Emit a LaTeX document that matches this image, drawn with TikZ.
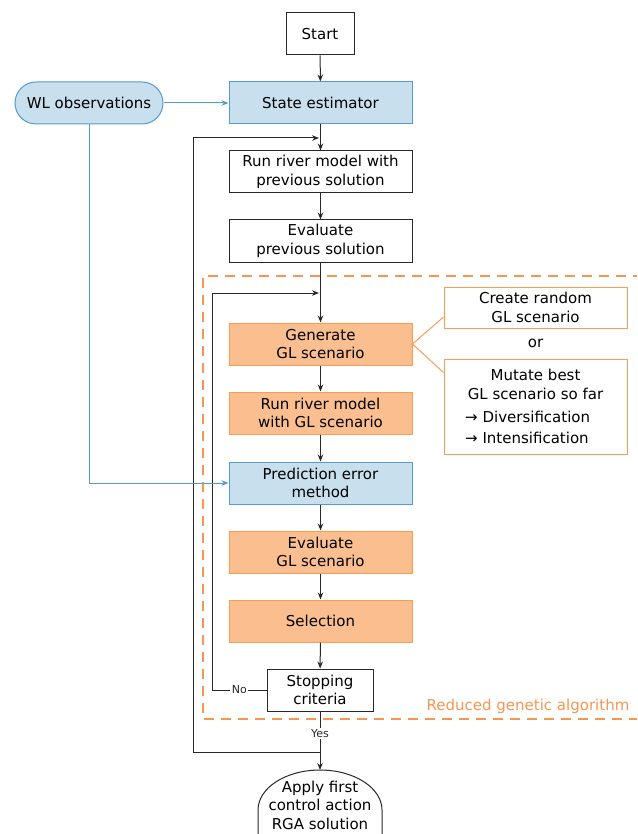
\documentclass[tikz,border=0pt]{standalone}
\usepackage{fontspec}
\setmainfont{DejaVu Sans}
\usetikzlibrary{arrows.meta,calc}
\definecolor{bfill}{RGB}{200,223,238}
\definecolor{bline}{RGB}{84,156,206}
\definecolor{ofill}{RGB}{251,191,143}
\definecolor{oline}{RGB}{247,156,82}
\definecolor{odash}{RGB}{247,150,80}
\definecolor{lcol}{RGB}{40,40,40}
\begin{document}
\begin{tikzpicture}[x=1pt,y=-1pt,
  txt/.style={font=\fontsize{15}{18.5}\selectfont, align=center},
  box/.style={txt, draw=lcol, line width=1pt, minimum width=183pt, minimum height=42pt, inner sep=0pt},
  bluebox/.style={box, fill=bfill, draw=bline},
  orbox/.style={box, fill=ofill, draw=oline},
  sidebox/.style={box, draw=oline},
  arr/.style={-{Stealth[length=7pt,width=5.5pt]}, line width=1pt, draw=lcol},
  barr/.style={-{Stealth[length=7pt,width=5.5pt]}, line width=1pt, draw=bline},
  lbl/.style={font=\fontsize{11}{13}\selectfont, fill=white, inner sep=1.5pt, text=lcol}]
\useasboundingbox (0,0) rectangle (637,834);
\clip (0,0) rectangle (637,834);

% dashed region
\draw[draw=odash, line width=1.3pt, dash pattern=on 10pt off 7pt] (660,276) -- (203,276) -- (203,719) -- (660,719);
\node[txt, text=odash, anchor=center] (rgalbl) at (528,706) {Reduced genetic algorithm};

% main nodes
\node[box, minimum width=68pt] (start) at (320,34) {Start};
\node[bluebox] (se) at (320.5,103) {State estimator};
\node[bluebox, rounded corners=21pt, minimum width=148pt] (wl) at (89,103) {WL observations};
\node[box] (rr) at (320.5,172) {Run river model with\\previous solution};
\node[box] (ep) at (320.5,241) {Evaluate\\previous solution};
\node[orbox] (gen) at (320.5,344) {Generate\\GL scenario};
\node[orbox] (rgl) at (320.5,413) {Run river model\\with GL scenario};
\node[bluebox] (pem) at (320.5,483) {Prediction error\\method};
\node[orbox] (egl) at (320.5,552) {Evaluate\\GL scenario};
\node[orbox] (sel) at (320.5,621) {Selection};
\node[box, minimum width=106pt] (stop) at (320,690) {Stopping\\criteria};

% right side boxes
\node[sidebox, minimum height=41pt] (cr) at (535.5,307.5) {Create random\\GL scenario};
\node[txt] (or) at (535.5,343) {or};
\node[sidebox, minimum height=95pt] (mut) at (535.5,406.5) {};
\node[txt] (mtxt) at (535.5,384.5) {Mutate best\\GL scenario so far};
\node[txt, anchor=west, inner sep=0pt] (div) at (465,417) {→ Diversification};
\node[txt, anchor=west, inner sep=0pt] (int) at (465,438) {→ Intensification};
\draw[oline, line width=1pt] ($(cr.west)+(0,9.5)$) -- (gen.east) -- ($(mut.north west)+(0,14)$);

% terminal
\coordinate (applytop) at (320,770);
\draw[lcol, line width=1pt] (258,850) -- (258,810) arc[start angle=180, end angle=360, x radius=62, y radius=40] -- (382,850);
\node[txt] (apply) at (320,805) {Apply first\\control action\\RGA solution};

% connectors
\draw[arr] (start) -- (se);
\draw[arr] (se) -- (rr);
\draw[arr] (rr) -- (ep);
\draw[arr] (ep) -- (gen);
\draw[arr] (gen) -- (rgl);
\draw[arr] (rgl) -- (pem);
\draw[arr] (pem) -- (egl);
\draw[arr] (egl) -- (sel);
\draw[arr] (sel) -- (stop);
\draw[arr] (stop) -- node[lbl, pos=0.37] (yes) {Yes} (applytop);

% outer loop
\coordinate (yj) at (320,752);
\coordinate (oj) at (320,138);
\draw[arr, shorten >=1pt] (yj) -- (193,752) -- (193,138) -- (oj);

% inner loop
\coordinate (ij) at (320,293);
\draw[arr, shorten >=1pt] (stop.west) -- node[lbl, pos=0.5] (no) {No} (212,690) -- (212,293) -- (ij);

% observation links
\draw[barr] (wl) -- (se);
\draw[barr] (wl.south) -- (89,483) -- (pem.west);
\end{tikzpicture}
\end{document}
